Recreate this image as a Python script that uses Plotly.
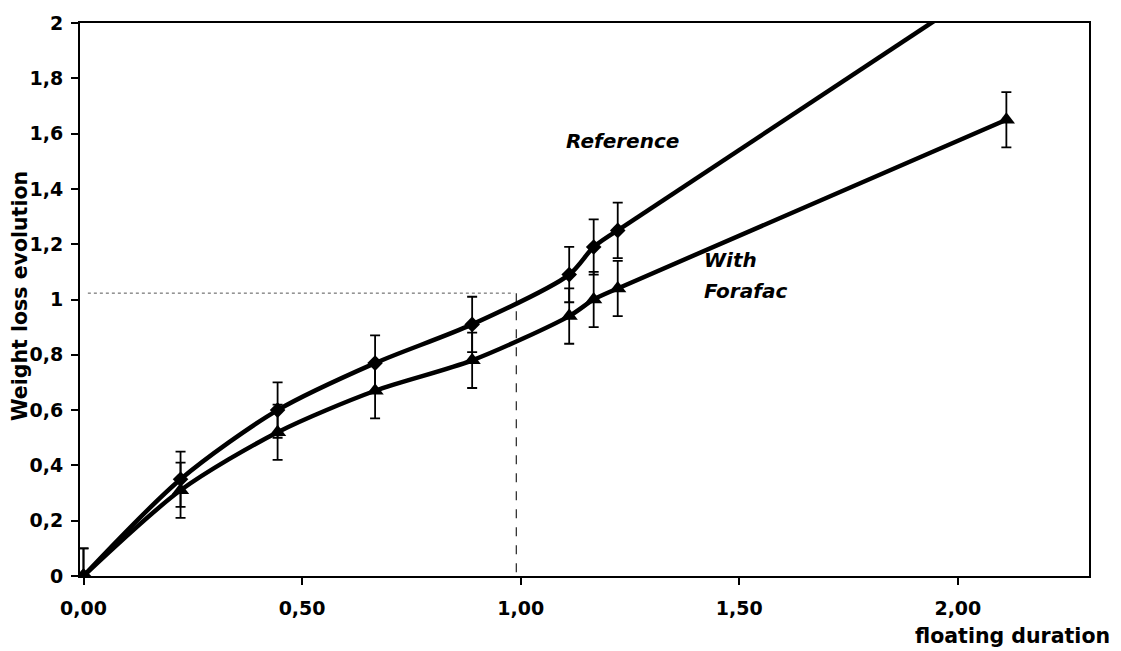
import plotly.graph_objects as go

# Data
duration = [0.0, 0.222, 0.444, 0.667, 0.889, 1.111, 1.167, 1.222]
reference = [0.0, 0.35, 0.60, 0.77, 0.91, 1.09, 1.19, 1.25]
ref_ext_x = [1.222, 2.111]
ref_ext_y = [1.25, 2.18]
forafac_x = [0.0, 0.222, 0.444, 0.667, 0.889, 1.111, 1.167, 1.222, 2.111]
forafac = [0.0, 0.31, 0.52, 0.67, 0.78, 0.94, 1.00, 1.04, 1.65]
err = 0.1

y_ticks = [0, 0.2, 0.4, 0.6, 0.8, 1.0, 1.2, 1.4, 1.6, 1.8, 2.0]
y_text = ["0", "0,2", "0,4", "0,6", "0,8", "1", "1,2", "1,4", "1,6", "1,8", "2"]
x_ticks = [0, 0.5, 1.0, 1.5, 2.0]
x_text = ["0,00", "0,50", "1,00", "1,50", "2,00"]

guide_x = 0.99
guide_y = 1.023

FONT = "DejaVu Sans"

fig = go.Figure()

# reference extrapolated line
fig.add_trace(go.Scatter(
    x=ref_ext_x, y=ref_ext_y, mode="lines",
    line=dict(color="black", width=4.5), showlegend=False, hoverinfo="skip"))

fig.add_trace(go.Scatter(
    x=duration, y=reference, mode="lines+markers",
    line=dict(color="black", width=4.5, shape="spline", smoothing=0.8),
    marker=dict(symbol="diamond", size=12, color="black"),
    error_y=dict(type="constant", value=err, color="black", thickness=1.8, width=5),
    showlegend=False))

fig.add_trace(go.Scatter(
    x=forafac_x, y=forafac, mode="lines+markers",
    line=dict(color="black", width=4.5, shape="spline", smoothing=0.8),
    marker=dict(symbol="triangle-up", size=15, color="black"),
    error_y=dict(type="constant", value=err, color="black", thickness=1.8, width=5),
    showlegend=False))

# guide lines
fig.add_shape(type="line", x0=0.01, x1=guide_x - 0.005, y0=guide_y, y1=guide_y,
              line=dict(color="#555555", width=1, dash="dot"), layer="below")
fig.add_shape(type="line", x0=guide_x, x1=guide_x, y0=guide_y, y1=0,
              line=dict(color="#222222", width=1.2, dash="dash"), layer="below")

ann_font = dict(family=FONT, size=20, color="black", weight="bold", style="italic")
fig.add_annotation(x=1.10, y=1.574, text="Reference", showarrow=False,
                   xanchor="left", yanchor="middle", font=ann_font)
fig.add_annotation(x=1.414, y=1.143, text="With", showarrow=False,
                   xanchor="left", yanchor="middle", font=ann_font)
fig.add_annotation(x=1.414, y=1.031, text="Forafac", showarrow=False,
                   xanchor="left", yanchor="middle", font=ann_font)

# axis titles
fig.add_annotation(xref="paper", yref="paper", x=1.0 + 23/1009, y=-(636-576)/557,
                   text="floating duration", showarrow=False, xanchor="right",
                   yanchor="middle", font=dict(family=FONT, size=20.5, color="black", weight="bold"))
fig.add_annotation(xref="paper", yref="paper", x=-(80-20)/1009, y=(576-294)/557,
                   text="Weight loss evolution", showarrow=False, textangle=-90,
                   xanchor="center", yanchor="middle",
                   font=dict(family=FONT, size=20.5, color="black", weight="bold"))

tick_font = dict(family=FONT, size=19, color="black", weight="bold")
fig.update_xaxes(range=[-0.008, 2.3], tickvals=x_ticks, ticktext=x_text,
                 showgrid=False, zeroline=False, showline=True, linecolor="black",
                 linewidth=2, mirror=True, ticks="outside", ticklen=7, tickwidth=1.5,
                 tickcolor="black", tickfont=tick_font, ticklabelstandoff=7)
fig.update_yaxes(range=[0, 2], tickvals=y_ticks, ticktext=y_text,
                 showgrid=False, zeroline=False, showline=True, linecolor="black",
                 linewidth=2, mirror=True, ticks="outside", ticklen=7, tickwidth=1.5,
                 tickcolor="black", tickfont=tick_font, ticklabelstandoff=4)

fig.update_layout(width=1121, height=651, plot_bgcolor="white", paper_bgcolor="white",
                  margin=dict(l=80, r=32, t=19, b=75), showlegend=False)

fig.write_html("out.html")
